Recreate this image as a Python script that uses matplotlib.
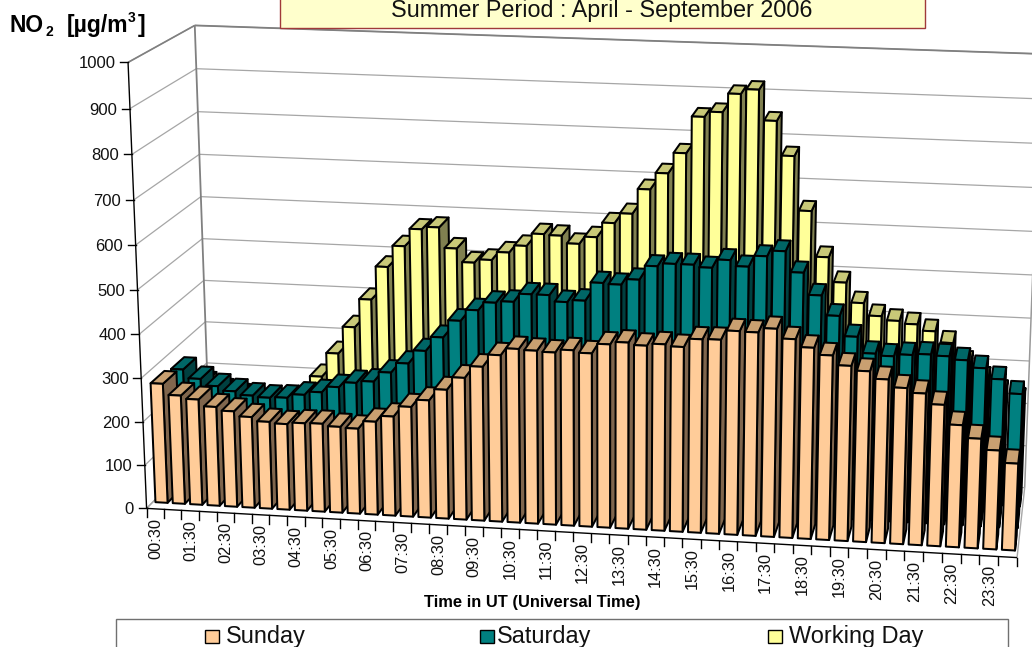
import numpy as np
import matplotlib
matplotlib.use("Agg")
import matplotlib.pyplot as plt

plt.rcParams["font.family"] = ["Liberation Sans", "DejaVu Sans"]

# half hour values, 00:30 ... 24:00
sunday = [276, 251, 244, 229, 221, 210, 201, 198, 202, 203, 198, 196,
          214, 228, 252, 269, 295, 324, 351, 379, 395, 393, 391, 398,
          393, 415, 421, 416, 421, 417, 436, 437, 458, 457, 467, 446,
          429, 414, 393, 383, 367, 350, 340, 317, 274, 246, 222, 195]
saturday = [267, 247, 232, 222, 214, 211, 213, 222, 230, 244, 256, 261,
            284, 307, 338, 371, 411, 437, 456, 460, 479, 479, 465, 470,
            512, 510, 523, 555, 562, 562, 557, 576, 563, 588, 601, 555,
            506, 462, 417, 381, 377, 382, 385, 383, 376, 360, 337, 306]
working_day = [190, 175, 165, 155, 150, 155, 175, 221, 278, 342, 409, 487,
               537, 578, 584, 537, 506, 514, 533, 550, 579, 577, 560, 577,
               611, 634, 691, 729, 776, 859, 871, 913, 924, 856, 779, 657,
               554, 498, 453, 425, 416, 410, 396, 371, 327, 292, 263, 247]
time_labels = ["00:30", "01:30", "02:30", "03:30", "04:30", "05:30",
               "06:30", "07:30", "08:30", "09:30", "10:30", "11:30",
               "12:30", "13:30", "14:30", "15:30", "16:30", "17:30",
               "18:30", "19:30", "20:30", "21:30", "22:30", "23:30"]
y_ticks = [0, 100, 200, 300, 400, 500, 600, 700, 800, 900, 1000]

# face colours: front, top, side, then where the row starts in depth
series = [
    ("Working Day", working_day, "#FFFF99", "#C8C878", "#808050", 2.15),
    ("Saturday", saturday, "#008080", "#006666", "#004040", 1.2),
    ("Sunday", sunday, "#FFCC99", "#C9A071", "#80664D", 0.28),
]

# camera of the 3D box: (slot, depth, value) -> where the box corners sit on the picture
box_corners = [(0, 0, 0), (0, 0, 1000), (0, 3, 0), (0, 3, 1000),
               (48, 3, 1000), (48, 3, 0), (48, 0, 0), (48, 0, 1000)]
box_pixels = [(146, 505.6), (127, 62.6), (210, 447), (196, 25),
              (1039, 51), (1025, 488), (1017, 557), (1036, 98)]

rows = []
rhs = []
for (a, b, c), (px, py) in zip(box_corners, box_pixels):
    rows.append([a, b, c, 1, 0, 0, 0, 0, -px * a, -px * b, -px * c])
    rows.append([0, 0, 0, 0, a, b, c, 1, -py * a, -py * b, -py * c])
    rhs += [px, py]
cam = np.linalg.lstsq(np.array(rows, float), np.array(rhs, float), rcond=None)[0]


def project(u, d, v):
    w = cam[8] * u + cam[9] * d + cam[10] * v + 1
    return ((cam[0] * u + cam[1] * d + cam[2] * v + cam[3]) / w,
            (cam[4] * u + cam[5] * d + cam[6] * v + cam[7]) / w)


def line3d(p0, p1, **kw):
    x0, y0 = project(*p0)
    x1, y1 = project(*p1)
    ax.plot([x0, x1], [y0, y1], solid_capstyle="butt", **kw)


def face(points, color):
    xy = [project(*p) for p in points]
    ax.fill([p[0] for p in xy], [p[1] for p in xy], facecolor=color,
            edgecolor="black", linewidth=1.45, joinstyle="round")


fig = plt.figure(figsize=(10.32, 6.47), dpi=100)
ax = fig.add_axes([0, 0, 1, 1])
ax.set_xlim(0, 1032)
ax.set_ylim(647, 0)
ax.axis("off")

# walls
for v in y_ticks:
    line3d((0, 0, v), (0, 3, v), color="#a6a6a6", lw=0.9, zorder=0.5)
    line3d((0, 3, v), (48, 3, v), color="#a6a6a6", lw=0.9, zorder=0.5)
line3d((0, 0, 1000), (0, 3, 1000), color="#808080", lw=1.2, zorder=0.6)
line3d((0, 3, 1000), (48, 3, 1000), color="#808080", lw=1.3, zorder=0.6)
line3d((0, 3, 0), (0, 3, 1000), color="#808080", lw=1.3, zorder=0.6)
line3d((48, 3, 0), (48, 3, 1000), color="#999999", lw=1.1, zorder=0.6)
line3d((48, 0, 0), (48, 3, 0), color="#a6a6a6", lw=1.0, zorder=0.6)
line3d((0, 0, 0), (0, 3, 0), color="#a6a6a6", lw=1.0, zorder=0.6)

# bars, back row first, left to right
gap_u = 0.15
bar_depth = 0.62
for name, values, front, top, side, d0 in series:
    d1 = d0 + bar_depth
    for i, v in enumerate(values):
        u0 = i + gap_u
        u1 = i + 1 - gap_u
        face([(u1, d0, 0), (u1, d1, 0), (u1, d1, v), (u1, d0, v)], side)
        face([(u0, d0, v), (u1, d0, v), (u1, d1, v), (u0, d1, v)], top)
        face([(u0, d0, 0), (u1, d0, 0), (u1, d0, v), (u0, d0, v)], front)

# front axes
line3d((0, 0, 0), (0, 0, 1000), color="black", lw=1.0, zorder=3)
line3d((0, 0, 0), (48, 0, 0), color="black", lw=1.0, zorder=3)
for v in y_ticks:
    x, y = project(0, 0, v)
    ax.plot([x - 8, x], [y, y], color="black", lw=1.0, zorder=3)
    ax.text(x - 12.5, y, str(v), ha="right", va="center_baseline", fontsize=12,
            color="#111111")
for i in range(49):
    x, y = project(i, 0, 0)
    ax.plot([x, x], [y, y + 8.5], color="black", lw=1.0, zorder=3)
for i, lab in enumerate(time_labels):
    x, y = project(2 * i + 0.5, 0, 0)
    ax.text(x + 0.5, y + 9, lab, rotation=90, ha="center", va="top",
            fontsize=11.8, color="#111111")

ax.text(532, 603, "Time in UT (Universal Time)", ha="center", va="center",
        fontsize=11.9, fontweight="bold")

# axis unit
ax.text(9.5, 32, "NO", fontsize=16.5, fontweight="bold", va="baseline")
ax.text(45, 36, "2", fontsize=10, fontweight="bold", va="baseline")
ax.text(67, 32, "[µg/m", fontsize=16.5, fontweight="bold", va="baseline")
ax.text(128, 22, "3", fontsize=10, fontweight="bold", va="baseline")
ax.text(137.5, 32, "]", fontsize=16.5, fontweight="bold", va="baseline")

# title box
ax.add_patch(plt.Rectangle((279.5, -10), 645, 38, facecolor="#FFFFCC",
                           edgecolor="#A03A3A", lw=1.0, zorder=4))
ax.text(602, 17.5, "Summer Period : April - September 2006", ha="center",
        va="baseline", fontsize=16.8, color="#111111", zorder=5)

# legend box
ax.add_patch(plt.Rectangle((116, 619), 892, 40, facecolor="white",
                           edgecolor="#707070", lw=1.0, zorder=4))
legend_x = [(205, 226), (480, 497), (768, 789)]
for (name, values, front, top, side, d0), (sx, tx) in zip(series[::-1], legend_x):
    ax.add_patch(plt.Rectangle((sx, 630), 13.5, 13, facecolor=front,
                               edgecolor="black", lw=1.0, zorder=5))
    ax.text(tx, 636, name, fontsize=16.9, va="center", zorder=5, color="#111111")

fig.savefig("out.png", dpi=100)
